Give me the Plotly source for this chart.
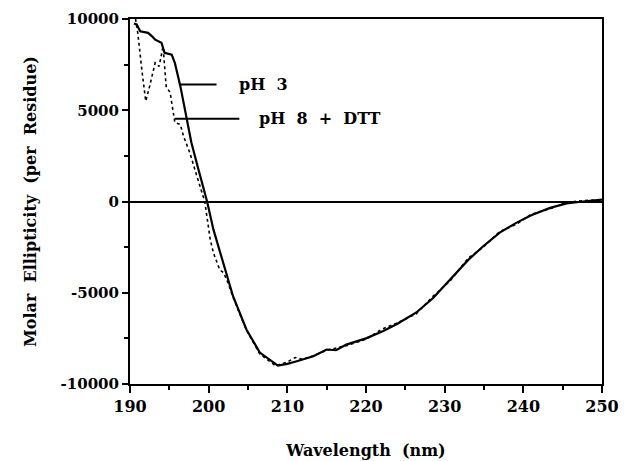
import plotly.graph_objects as go

# pH 3 (solid)
wl_ph3 = [190.5, 190.85, 191.3, 191.8, 192.3, 192.8, 193.2, 194.0, 194.4, 195.3, 195.7, 196.4, 197.2, 197.8,
          198.7, 199.5, 199.8, 200.6, 201.9, 203.1, 204.8, 206.5, 208.8, 210.0, 211.2, 212.3, 213.3, 215.0,
          216.2, 217.5, 220.0, 222.2, 224.0, 226.4, 228.5, 230.7, 233.0, 234.9, 237.0, 239.1, 241.0, 243.4,
          245.5, 247.6, 250.0]
cd_ph3 = [9750, 9700, 9330, 9300, 9240, 9050, 8870, 8700, 8150, 8050, 7600, 6320, 4490, 3230,
          1750, 490, 0, -1530, -3360, -5190, -7010, -8280, -8990, -8900, -8750, -8600, -8480, -8110,
          -8150, -7840, -7500, -7100, -6700, -6080, -5300, -4270, -3200, -2450, -1700, -1170, -750, -350,
          -100, 0, 100]

# pH 8 + DTT (dotted)
wl_ph8 = [190.7, 191.0, 191.5, 192.0, 192.5, 193.2, 193.7, 194.2, 194.6, 195.1, 195.7, 196.4, 196.8,
          197.6, 198.5, 199.5, 200.2, 200.6, 201.4, 201.9, 202.5, 203.1, 204.8, 206.5, 208.5, 210.0,
          211.0, 212.0, 213.3, 215.0, 217.5, 220.0, 222.0, 224.0, 226.4, 228.5, 230.7, 233.0, 234.9,
          237.0, 239.1, 241.0, 243.4, 245.5, 247.6, 250.0]
cd_ph8 = [10000, 9200, 7230, 5500, 6320, 7600, 7400, 8500, 6300, 5970, 4330, 4220, 3580,
          2680, 1390, 0, -2080, -2810, -3730, -3910, -4500, -5250, -7050, -8350, -9000, -8800,
          -8550, -8650, -8450, -8150, -7900, -7550, -7000, -6650, -6150, -5200, -4350, -3100, -2500,
          -1650, -1250, -700, -400, -50, 50, 100]

x_ticks = [190, 200, 210, 220, 230, 240, 250]
x_ticktext = ["190", "200", "210", "220", "230", "240", "250"]
y_ticks = [-10000, -5000, 0, 5000, 10000]
y_ticktext = ["-10000", "-5000", "0", "5000", "10000"]

labels = ["pH  3", "pH  8  +  DTT"]
label_y = [6410, 4530]
leader_x0 = [196.4, 195.7]
leader_x1 = [201.0, 203.9]
label_x = [203.6, 206.1]

font_family = "DejaVu Serif"

fig = go.Figure()
fig.add_trace(go.Scatter(x=wl_ph3, y=cd_ph3, mode="lines", line=dict(color="black", width=2.2),
                         showlegend=False))
fig.add_trace(go.Scatter(x=wl_ph8, y=cd_ph8, mode="lines", line=dict(color="black", width=1.6, dash="dot"),
                         showlegend=False))

for lab, ly, x0, x1, lx in zip(labels, label_y, leader_x0, leader_x1, label_x):
    fig.add_shape(type="line", x0=x0, x1=x1, y0=ly, y1=ly, line=dict(color="black", width=2))
    fig.add_annotation(x=lx, y=ly, text="<b>" + lab + "</b>", showarrow=False, xanchor="left",
                       yanchor="middle", font=dict(family=font_family, size=16, color="black"))

fig.update_layout(
    width=632, height=461,
    margin=dict(l=130, r=30, t=19, b=77),
    paper_bgcolor="white", plot_bgcolor="white",
    font=dict(family=font_family, color="black"),
    xaxis=dict(range=[190, 250], tickvals=x_ticks, ticktext=["<b>" + t + "</b>" for t in x_ticktext],
               ticks="outside", ticklen=7, tickwidth=2, automargin=False,
               tickcolor="black", showline=True, linecolor="black", linewidth=2, mirror=True,
               showgrid=False, zeroline=False,
               minor=dict(dtick=5, ticks="outside", ticklen=4, tickwidth=1.5, tickcolor="black"),
               tickfont=dict(family=font_family, size=16, color="black"),
               title=dict(text="<b>Wavelength  (nm)</b>", font=dict(family=font_family, size=16),
                          standoff=30)),
    yaxis=dict(range=[-10000, 10000], tickvals=y_ticks, ticktext=["<b>" + t + "</b>" for t in y_ticktext],
               ticks="outside", automargin=False,
               ticklen=6, tickwidth=2, tickcolor="black", showline=True, linecolor="black",
               linewidth=2, mirror=True, showgrid=False, zeroline=True, zerolinecolor="black",
               zerolinewidth=1.8,
               minor=dict(dtick=2500, ticks="outside", ticklen=4, tickwidth=1.5, tickcolor="black"),
               tickfont=dict(family=font_family, size=15, color="black"),
               title=dict(text="<b>Molar  Ellipticity  (per  Residue)</b>",
                          font=dict(family=font_family, size=16), standoff=20)),
)

fig.write_html("out.html")
